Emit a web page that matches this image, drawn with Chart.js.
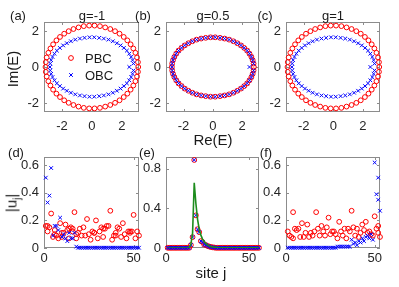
<!DOCTYPE html>
<html><head><meta charset="utf-8">
<script src="https://cdn.jsdelivr.net/npm/chart.js@4.4.1/dist/chart.umd.min.js"></script>
<style>
html,body{margin:0;padding:0;background:#fff;}
#wrap{position:relative;width:399px;height:287px;overflow:hidden;font-family:'Liberation Sans',Arial,sans-serif;color:#1a1a1a;}
canvas{position:absolute;left:0;top:0;}
.t{position:absolute;transform:translate(-50%,-50%);white-space:nowrap;font-size:13px;line-height:1;}
.l{position:absolute;transform:translate(0,-50%);white-space:nowrap;font-size:13px;line-height:1;}
.r{position:absolute;transform:translate(-50%,-50%) rotate(-90deg);white-space:nowrap;font-size:15px;line-height:1;}
.r sub{font-size:10px;}
</style></head><body>
<div id="wrap">
<canvas id="ca" width="399" height="287"></canvas>
<canvas id="cb" width="399" height="287"></canvas>
<canvas id="cc" width="399" height="287"></canvas>
<canvas id="cd" width="399" height="287"></canvas>
<canvas id="ce" width="399" height="287"></canvas>
<canvas id="cf" width="399" height="287"></canvas>
<div class="t" style="left:18px;top:15px">(a)</div>
<div class="t" style="left:92px;top:15px">g=-1</div>
<div class="t" style="left:143px;top:15px">(b)</div>
<div class="t" style="left:213px;top:15px">g=0.5</div>
<div class="t" style="left:265px;top:15px">(c)</div>
<div class="t" style="left:333px;top:15px">g=1</div>
<div class="r" style="left:12px;top:69px">Im(E)</div>
<div class="t" style="left:213px;top:139px;font-size:15px">Re(E)</div>
<div class="l" style="left:85px;top:58px">PBC</div>
<div class="l" style="left:85px;top:75px">OBC</div>
<div class="t" style="left:16px;top:152px">(d)</div>
<div class="t" style="left:147px;top:152px">(e)</div>
<div class="t" style="left:266px;top:152px">(f)</div>
<div class="r" style="left:13px;top:203px">|u<sub>j</sub>|</div>
<div class="t" style="left:211px;top:272px;font-size:15px">site j</div>
</div>
<script>
// ---- tick labels ----
const specXTicks = [-2, 0, 2];
const specYTicks = [-2, 0, 2];
const siteTicks = [0, 50];
const uTicksDF = [0, 0.2, 0.4, 0.6];
const uTicksE = [0, 0.4, 0.8];

// ---- spectra (a),(c): PBC ----
const pbcRe = [3.10,3.08,3.02,2.91,2.77,2.59,2.37,2.13,1.85,1.55,1.23,0.89,0.54,0.18,
 -0.18,-0.54,-0.89,-1.23,-1.55,-1.85,-2.13,-2.37,-2.59,-2.77,-2.91,-3.02,-3.08,-3.10,
 -3.08,-3.02,-2.91,-2.77,-2.59,-2.37,-2.13,-1.85,-1.55,-1.23,-0.89,-0.54,-0.18,
 0.18,0.54,0.89,1.23,1.55,1.85,2.13,2.37,2.59,2.77,2.91,3.02,3.08];
const pbcIm = [0,0.27,0.53,0.79,1.03,1.26,1.48,1.67,1.85,1.99,2.11,2.20,2.27,2.30,
 2.30,2.27,2.20,2.11,1.99,1.85,1.67,1.48,1.26,1.03,0.79,0.53,0.27,0,
 -0.27,-0.53,-0.79,-1.03,-1.26,-1.48,-1.67,-1.85,-1.99,-2.11,-2.20,-2.27,-2.30,
 -2.30,-2.27,-2.20,-2.11,-1.99,-1.85,-1.67,-1.48,-1.26,-1.03,-0.79,-0.53,-0.27];
// ---- spectrum (b): PBC ----
const pbcBRe = [2.80,2.78,2.72,2.63,2.50,2.34,2.14,1.92,1.67,1.40,1.11,0.80,0.49,0.16,
 -0.16,-0.49,-0.80,-1.11,-1.40,-1.67,-1.92,-2.14,-2.34,-2.50,-2.63,-2.72,-2.78,-2.80,
 -2.78,-2.72,-2.63,-2.50,-2.34,-2.14,-1.92,-1.67,-1.40,-1.11,-0.80,-0.49,-0.16,
 0.16,0.49,0.80,1.11,1.40,1.67,1.92,2.14,2.34,2.50,2.63,2.72,2.78];
const pbcBIm = [0,0.19,0.38,0.56,0.74,0.91,1.06,1.20,1.32,1.43,1.52,1.58,1.62,1.65,
 1.65,1.62,1.58,1.52,1.43,1.32,1.20,1.06,0.91,0.74,0.56,0.38,0.19,0,
 -0.19,-0.38,-0.56,-0.74,-0.91,-1.06,-1.20,-1.32,-1.43,-1.52,-1.58,-1.62,-1.65,
 -1.65,-1.62,-1.58,-1.52,-1.43,-1.32,-1.20,-1.06,-0.91,-0.74,-0.56,-0.38,-0.19];
// ---- OBC spectrum (same in a,b,c) ----
const obcRe = [2.50,2.78,2.72,2.63,2.50,2.34,2.14,1.92,1.67,1.40,1.11,0.80,0.49,0.16,
 -0.16,-0.49,-0.80,-1.11,-1.40,-1.67,-1.92,-2.14,-2.34,-2.50,-2.63,-2.72,-2.78,-2.80,
 -2.78,-2.72,-2.63,-2.50,-2.34,-2.14,-1.92,-1.67,-1.40,-1.11,-0.80,-0.49,-0.16,
 0.16,0.49,0.80,1.11,1.40,1.67,1.92,2.14,2.34,2.50,2.63,2.72,2.78];
const obcIm = [0,0.19,0.38,0.56,0.74,0.91,1.06,1.20,1.32,1.43,1.52,1.58,1.62,1.65,
 1.65,1.62,1.58,1.52,1.43,1.32,1.20,1.06,0.91,0.74,0.56,0.38,0.19,0,
 -0.19,-0.38,-0.56,-0.74,-0.91,-1.06,-1.20,-1.32,-1.43,-1.52,-1.58,-1.62,-1.65,
 -1.65,-1.62,-1.58,-1.52,-1.43,-1.32,-1.20,-1.06,-0.91,-0.74,-0.56,-0.38,-0.19];

// ---- (d) g=-1 eigenstates ----
const pbcDj = [1,2,3,4,5,6,7,8,9,10,11,12,13,14,15,16,17,18,19,20,21,22,23,24,25,26,27,28,29,30,31,32,33,34,35,36,37,38,39,40,41,42,43,44,45,46,47,48,49,50,51,52,53,
 2,6,10,14,16,18,28,33,40,48];
const pbcDu = [0.16,0.12,0.15,0.25,0.08,0.13,0.09,0.07,0.18,0.08,0.11,0.17,0.13,0.07,0.15,0.12,0.26,0.07,0.11,0.14,0.09,0.15,0.09,0.21,0.10,0.06,0.12,0.11,0.20,0.07,0.12,0.15,0.08,0.14,0.16,0.16,0.27,0.06,0.09,0.11,0.15,0.14,0.08,0.18,0.10,0.07,0.12,0.11,0.12,0.24,0.07,0.12,0.09,
 0.16,0.10,0.11,0.14,0.14,0.10,0.11,0.14,0.09,0.12];
const obcDj = [1,2,3,4,5,6,7,8,9,10,11,12,13,14,15,16,17,18,19,20,21,22,23,24,25,26,27,28,29,30,31,32,33,34,35,36,37,38,39,40,41,42,43,44,45,46,47,48,49,50,51,52,53];
const obcDu = [0.51,0.33,0.38,0.58,0.09,0.16,0.16,0.13,0.22,0.08,0.10,0.07,0.05,0.11,0.07,0.07,0.11,0.01,
 0.002,0.002,0.002,0.002,0.002,0.002,0.002,0.002,0.002,0.002,0.002,0.002,0.002,0.002,0.002,0.002,0.002,0.002,
 0.002,0.002,0.002,0.002,0.002,0.002,0.002,0.002,0.002,0.002,0.002,0.002,0.002,0.002,0.002,0.002,0.002];

// ---- (e) g=0.5 eigenstate ----
const sitesE = [1,2,3,4,5,6,7,8,9,10,11,12,13,14,15,16,17,18,19,20,21,22,23,24,25,26,27,28,29,30,31,32,33,34,35,36,37,38,39,40,41,42,43,44,45,46,47,48,49,50,51,52,53,54,55,56];
const stateEu = [0.002,0.002,0.002,0.002,0.002,0.002,0.002,0.002,0.002,0.002,0.002,0.002,0.002,0.002,
 0.03,0.11,0.89,0.33,0.19,0.16,0.07,0.06,0.035,0.03,0.02,0.015,0.01,0.007,0.005,
 0.002,0.002,0.002,0.002,0.002,0.002,0.002,0.002,0.002,0.002,0.002,0.002,0.002,0.002,0.002,0.002,0.002,0.002,0.002,0.002,0.002,0.002,0.002,0.002,0.002,0.002,0.002];
const greenEu = [0,0,0,0,0,0,0,0,0,0,0,0,0,
 0.005,0.04,0.15,0.66,0.45,0.29,0.19,0.13,0.09,0.065,0.045,0.032,0.023,0.016,0.011,0.008,0.006,0.004,0.003,
 0.002,0.002,0.002,0.002,0.002,0.002,0.002,0.002,0.002,0.002,0.002,0.002,0.002,0.002,0.002,0.002,0.002,0.002,0.002,0.002,0.002,0.002,0.002,0.002];

// ---- (f) g=1 eigenstates ----
const pbcFj = [1,3,4,4,5,6,7,8,9,11,12,13,14,15,17,18,19,20,21,22,24,25,26,27,29,30,31,32,33,34,35,37,38,39,40,42,43,45,46,47,48,49,50,51,52,52,53,
 2,10,16,23,28,36,41,44];
const pbcFu = [0.12,0.08,0.07,0.26,0.14,0.13,0.14,0.08,0.18,0.11,0.17,0.08,0.11,0.09,0.26,0.14,0.09,0.16,0.12,0.09,0.22,0.10,0.12,0.12,0.07,0.19,0.12,0.09,0.14,0.07,0.14,0.27,0.15,0.09,0.14,0.11,0.17,0.19,0.11,0.12,0.10,0.09,0.23,0.14,0.11,0.16,0.08,
 0.09,0.08,0.12,0.15,0.10,0.12,0.08,0.13];
const obcFj = [1,2,3,4,5,6,7,8,9,10,11,12,13,14,15,16,17,18,19,20,21,22,23,24,25,26,27,28,29,30,31,32,33,34,35,36,37,38,39,40,41,42,43,44,45,46,47,48,49,50,51,52,53,52];
const obcFu = [0.002,0.002,0.002,0.002,0.002,0.002,0.002,0.002,0.002,0.002,0.002,0.002,0.002,0.002,0.002,0.002,0.002,0.002,0.002,0.002,0.002,0.002,0.002,0.002,0.002,0.002,0.002,0.002,
 0.01,0.01,0.01,0.01,0.01,0.01,0.01,0.01,
 0.06,0.03,0.04,0.02,0.05,0.04,0.07,0.05,0.08,0.09,0.07,0.10,0.06,
 0.62,0.39,0.35,0.27,0.51];

// ---------------- drawing ----------------
const W = 399, H = 287, YW = 40, XH = 25;
const FONT = "'Liberation Sans', Arial, sans-serif";
const pts = (xs, ys) => xs.map((x, i) => ({x: x, y: ys[i]}));

const redStyle = {pointStyle:'circle', pointRadius:2.4, pointBorderColor:'#ff0000', pointBackgroundColor:'rgba(0,0,0,0)', pointBorderWidth:1, showLine:false, clip:false, order:2};
const blueStyle = {pointStyle:'crossRot', pointRadius:2.6, pointBorderColor:'#0000ff', pointBackgroundColor:'#0000ff', pointBorderWidth:1, showLine:false, clip:false, order:1};

const boxPlugin = {
  id: 'boxTicks',
  beforeDatasetsDraw(chart) {
    const {ctx, chartArea: {left, top, right, bottom}, scales: {x, y}} = chart;
    ctx.save();
    ctx.strokeStyle = '#8c8c8c';
    ctx.lineWidth = 1;
    ctx.strokeRect(left + 0.5, top + 0.5, right - left - 1, bottom - top - 1);
    ctx.beginPath();
    x.ticks.forEach(tk => {
      const p = Math.round(x.getPixelForValue(tk.value)) + 0.5;
      ctx.moveTo(p, bottom); ctx.lineTo(p, bottom - 3);
      ctx.moveTo(p, top); ctx.lineTo(p, top + 3);
    });
    y.ticks.forEach(tk => {
      const p = Math.round(y.getPixelForValue(tk.value)) + 0.5;
      ctx.moveTo(left, p); ctx.lineTo(left + 3, p);
      ctx.moveTo(right, p); ctx.lineTo(right - 3, p);
    });
    ctx.stroke();
    ctx.restore();
  }
};

const legendMarks = {
  id: 'legendMarks',
  afterDatasetsDraw(chart) {
    const {ctx, chartArea: {left, top}} = chart;
    ctx.save();
    ctx.lineWidth = 1;
    ctx.fillStyle = 'rgba(0,0,0,0)';
    ctx.strokeStyle = '#ff0000';
    Chart.helpers.drawPoint(ctx, {pointStyle:'circle', radius:2.4, borderWidth:1, rotation:0}, left + 27, top + 36);
    ctx.strokeStyle = '#0000ff';
    Chart.helpers.drawPoint(ctx, {pointStyle:'crossRot', radius:2.6, borderWidth:1, rotation:0}, left + 27, top + 53);
    ctx.restore();
  }
};

function axis(min, max, ticks, pad, isY) {
  return {
    type: 'linear', min: min, max: max,
    grid: {display: false, drawTicks: false},
    border: {display: false},
    afterBuildTicks: s => { s.ticks = ticks.map(v => ({value: v})); },
    afterFit: s => { if (isY) s.width = YW; else s.height = XH; },
    ticks: {padding: pad, autoSkip: false, maxRotation: 0, color: '#262626',
            font: {family: FONT, size: 13}, callback: v => String(v)}
  };
}

function panel(id, rect, xr, yr, xt, yt, xpad, datasets, extra) {
  const [l, t, r, b] = rect;
  return new Chart(document.getElementById(id), {
    type: 'scatter',
    data: {datasets: datasets},
    options: {
      responsive: false, animation: false, devicePixelRatio: 1, events: [],
      layout: {padding: {left: l - YW, right: W - r, top: t, bottom: H - b - XH}},
      plugins: {legend: {display: false}, tooltip: {enabled: false}},
      scales: {
        x: axis(xr[0], xr[1], xt, xpad, false),
        y: axis(yr[0], yr[1], yt, 5, true)
      }
    },
    plugins: [boxPlugin].concat(extra || [])
  });
}

const specX = [-3.2, 3.15], specY = [-2.5, 2.5];
panel('ca', [44, 22, 139, 112], specX, specY, specXTicks, specYTicks, 7, [
  Object.assign({data: pts(pbcRe, pbcIm)}, redStyle),
  Object.assign({data: pts(obcRe, obcIm)}, blueStyle)
], [legendMarks]);
panel('cb', [166, 22, 259, 112], specX, specY, specXTicks, specYTicks, 7, [
  Object.assign({data: pts(pbcBRe, pbcBIm)}, redStyle),
  Object.assign({data: pts(obcRe, obcIm)}, blueStyle)
]);
panel('cc', [286, 22, 380, 112], specX, specY, specXTicks, specYTicks, 7, [
  Object.assign({data: pts(pbcRe, pbcIm)}, redStyle),
  Object.assign({data: pts(obcRe, obcIm)}, blueStyle)
]);
panel('cd', [44, 157, 139, 248], [0, 53], [0, 0.66], siteTicks, uTicksDF, 3, [
  Object.assign({data: pts(pbcDj, pbcDu)}, redStyle),
  Object.assign({data: pts(obcDj, obcDu)}, blueStyle)
]);
panel('ce', [166, 157, 259, 248], [0, 56], [0, 0.92], siteTicks, uTicksE, 3, [
  Object.assign({data: pts(sitesE, stateEu)}, redStyle),
  Object.assign({data: pts(sitesE, stateEu)}, blueStyle),
  {data: pts(sitesE, greenEu), showLine: true, pointRadius: 0, borderColor: '#1d8c1d', borderWidth: 1.6, tension: 0, order: 0}
]);
panel('cf', [286, 157, 380, 248], [0, 53], [0, 0.66], siteTicks, uTicksDF, 3, [
  Object.assign({data: pts(pbcFj, pbcFu)}, redStyle),
  Object.assign({data: pts(obcFj, obcFu)}, blueStyle)
]);
</script>
</body></html>
